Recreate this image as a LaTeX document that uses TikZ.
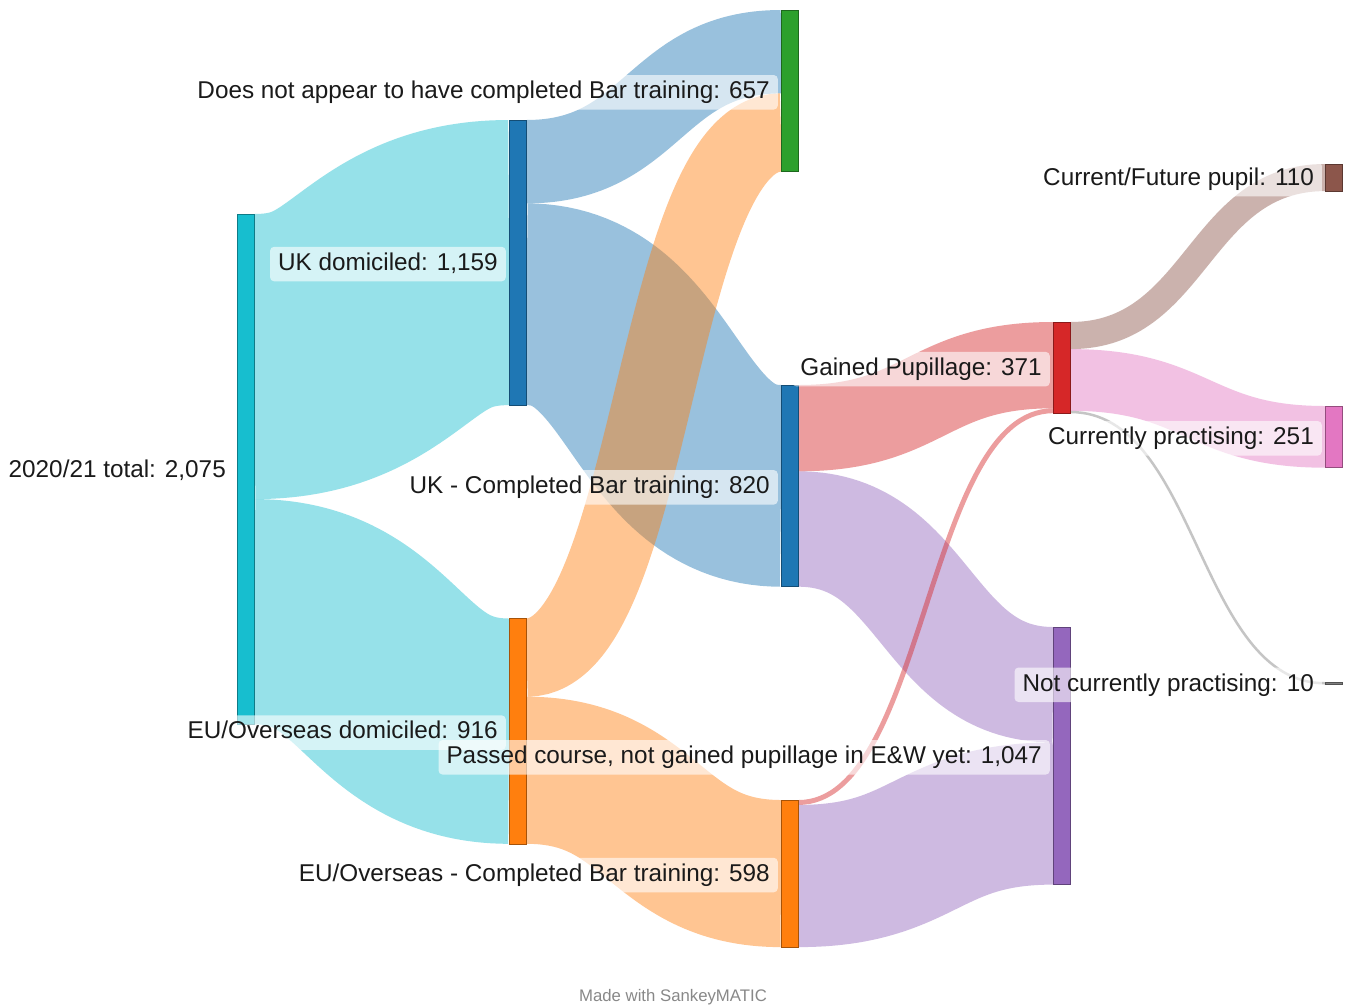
\documentclass[tikz,border=0pt]{standalone}
\usepackage{fontspec}
\setmainfont{Liberation Sans}
\usetikzlibrary{calc}
\definecolor{cCyan}{HTML}{17BECF}
\definecolor{cBlue}{HTML}{1F77B4}
\definecolor{cOrange}{HTML}{FF7F0E}
\definecolor{cGreen}{HTML}{2CA02C}
\definecolor{cRed}{HTML}{D62728}
\definecolor{cPurple}{HTML}{9467BD}
\definecolor{cBrown}{HTML}{8C564B}
\definecolor{cPink}{HTML}{E377C2}
\definecolor{cGray}{HTML}{7F7F7F}
\definecolor{cText}{HTML}{1A1A1A}
\definecolor{cFoot}{HTML}{888888}
\tikzset{
  sknode/.style={rectangle, inner sep=0pt, outer sep=0pt, anchor=north west,
    minimum width=17.5pt, fill=#1, draw=#1!65!black, line width=0.6pt},
  skflowline/.style={draw=#1, draw opacity=0.45, line cap=butt},
  sklabel/.style={fill=white, fill opacity=0.6, text opacity=1, text=cText,
    rounded corners=4pt, inner xsep=8pt, inner ysep=6pt,
    text height=17.5pt, text depth=5pt, anchor=east, yshift=-1.5pt,
    font=\fontsize{24.3}{28}\selectfont},
}
% source, offset at source, target, offset at target, thickness, colour
\newcommand\skflow[6]{%
  \coordinate (s0) at ($(#1.north east)+(0,#2+#5/2)$);
  \coordinate (t0) at ($(#3.north west)+(0,#4+#5/2)$);
  \coordinate (mm) at ($(s0)!0.5!(t0)$);
  \draw[skflowline=#6, line width=#5pt] (s0) .. controls (s0 -| mm) and (t0 -| mm) .. (t0);
}
\begin{document}
\begin{tikzpicture}[x=1pt,y=-1pt]
\useasboundingbox (0,0) rectangle (1354,1007);
\fill[white] (0,0) rectangle (1354,1007);

% node geometry (placed first so flows can refer to them)
\path
  (237,214)   node[sknode=cCyan,   minimum height=510.5pt] (tot) {}
  (509,120)   node[sknode=cBlue,   minimum height=285.1pt] (ukd) {}
  (509,618.5) node[sknode=cOrange, minimum height=225.3pt] (eud) {}
  (781,10)    node[sknode=cGreen,  minimum height=161.6pt] (dna) {}
  (781,385)   node[sknode=cBlue,   minimum height=201.7pt] (ukc) {}
  (781,800)   node[sknode=cOrange, minimum height=147.1pt] (euc) {}
  (1053,322)  node[sknode=cRed,    minimum height=91.3pt]  (gp) {}
  (1053,627)  node[sknode=cPurple, minimum height=257.6pt] (pc) {}
  (1325,164)  node[sknode=cBrown,  minimum height=27.1pt]  (cfp) {}
  (1325,406)  node[sknode=cPink,   minimum height=61.7pt]  (cp) {}
  (1325,682)  node[sknode=cGray,   minimum height=2.5pt]   (ncp) {};

% flows
\skflow{tot}{0}{ukd}{0}{285.1}{cCyan}
\skflow{tot}{285.1}{eud}{0}{225.3}{cCyan}
\skflow{ukd}{0}{dna}{0}{83.4}{cBlue}
\skflow{ukd}{83.4}{ukc}{0}{201.7}{cBlue}
\skflow{eud}{0}{dna}{83.4}{78.2}{cOrange}
\skflow{eud}{78.2}{euc}{0}{147.1}{cOrange}
\skflow{ukc}{0}{gp}{0}{86.3}{cRed}
\skflow{ukc}{86.3}{pc}{0}{115.4}{cPurple}
\skflow{euc}{0}{gp}{86.3}{4.9}{cRed}
\skflow{euc}{4.9}{pc}{115.4}{142.2}{cPurple}
\skflow{gp}{0}{cfp}{0}{27.1}{cBrown}
\skflow{gp}{27.1}{cp}{0}{61.7}{cPink}
\skflow{gp}{88.8}{ncp}{0}{2.5}{cGray}

% nodes on top of flows
\path
  (237,214)   node[sknode=cCyan,   minimum height=510.5pt] {}
  (509,120)   node[sknode=cBlue,   minimum height=285.1pt] {}
  (509,618.5) node[sknode=cOrange, minimum height=225.3pt] {}
  (781,10)    node[sknode=cGreen,  minimum height=161.6pt] {}
  (781,385)   node[sknode=cBlue,   minimum height=201.7pt] {}
  (781,800)   node[sknode=cOrange, minimum height=147.1pt] {}
  (1053,322)  node[sknode=cRed,    minimum height=91.3pt]  {}
  (1053,627)  node[sknode=cPurple, minimum height=257.6pt] {}
  (1325,164)  node[sknode=cBrown,  minimum height=27.1pt]  {}
  (1325,406)  node[sknode=cPink,   minimum height=61.7pt]  {}
  (1325,682)  node[sknode=cGray,   minimum height=2.5pt]   {};

% labels
\node[sklabel] (ltot) at ($(tot.west)+(-3,0)$) {2020/21 total: 2,075};
\node[sklabel] (lukd) at ($(ukd.west)+(-3,0)$) {UK domiciled: 1,159};
\node[sklabel] (leud) at ($(eud.west)+(-3,0)$) {EU/Overseas domiciled: 916};
\node[sklabel] (ldna) at ($(dna.west)+(-3,0)$) {Does not appear to have completed Bar training: 657};
\node[sklabel] (lukc) at ($(ukc.west)+(-3,0)$) {UK - Completed Bar training: 820};
\node[sklabel] (leuc) at ($(euc.west)+(-3,0)$) {EU/Overseas - Completed Bar training: 598};
\node[sklabel] (lgp) at ($(gp.west)+(-3,0)$) {Gained Pupillage: 371};
\node[sklabel] (lpc) at ($(pc.west)+(-3,0)$) {Passed course, not gained pupillage in E\&W yet: 1,047};
\node[sklabel] (lcfp) at ($(cfp.west)+(-3,0)$) {Current/Future pupil: 110};
\node[sklabel] (lcp) at ($(cp.west)+(-3,0)$) {Currently practising: 251};
\node[sklabel] (lncp) at ($(ncp.west)+(-3,0)$) {Not currently practising: 10};

\node[anchor=base, text=cFoot, inner sep=0pt, font=\fontsize{16.75}{20}\selectfont] (foot) at (673,1001.5) {Made with SankeyMATIC};
\end{tikzpicture}
\end{document}
